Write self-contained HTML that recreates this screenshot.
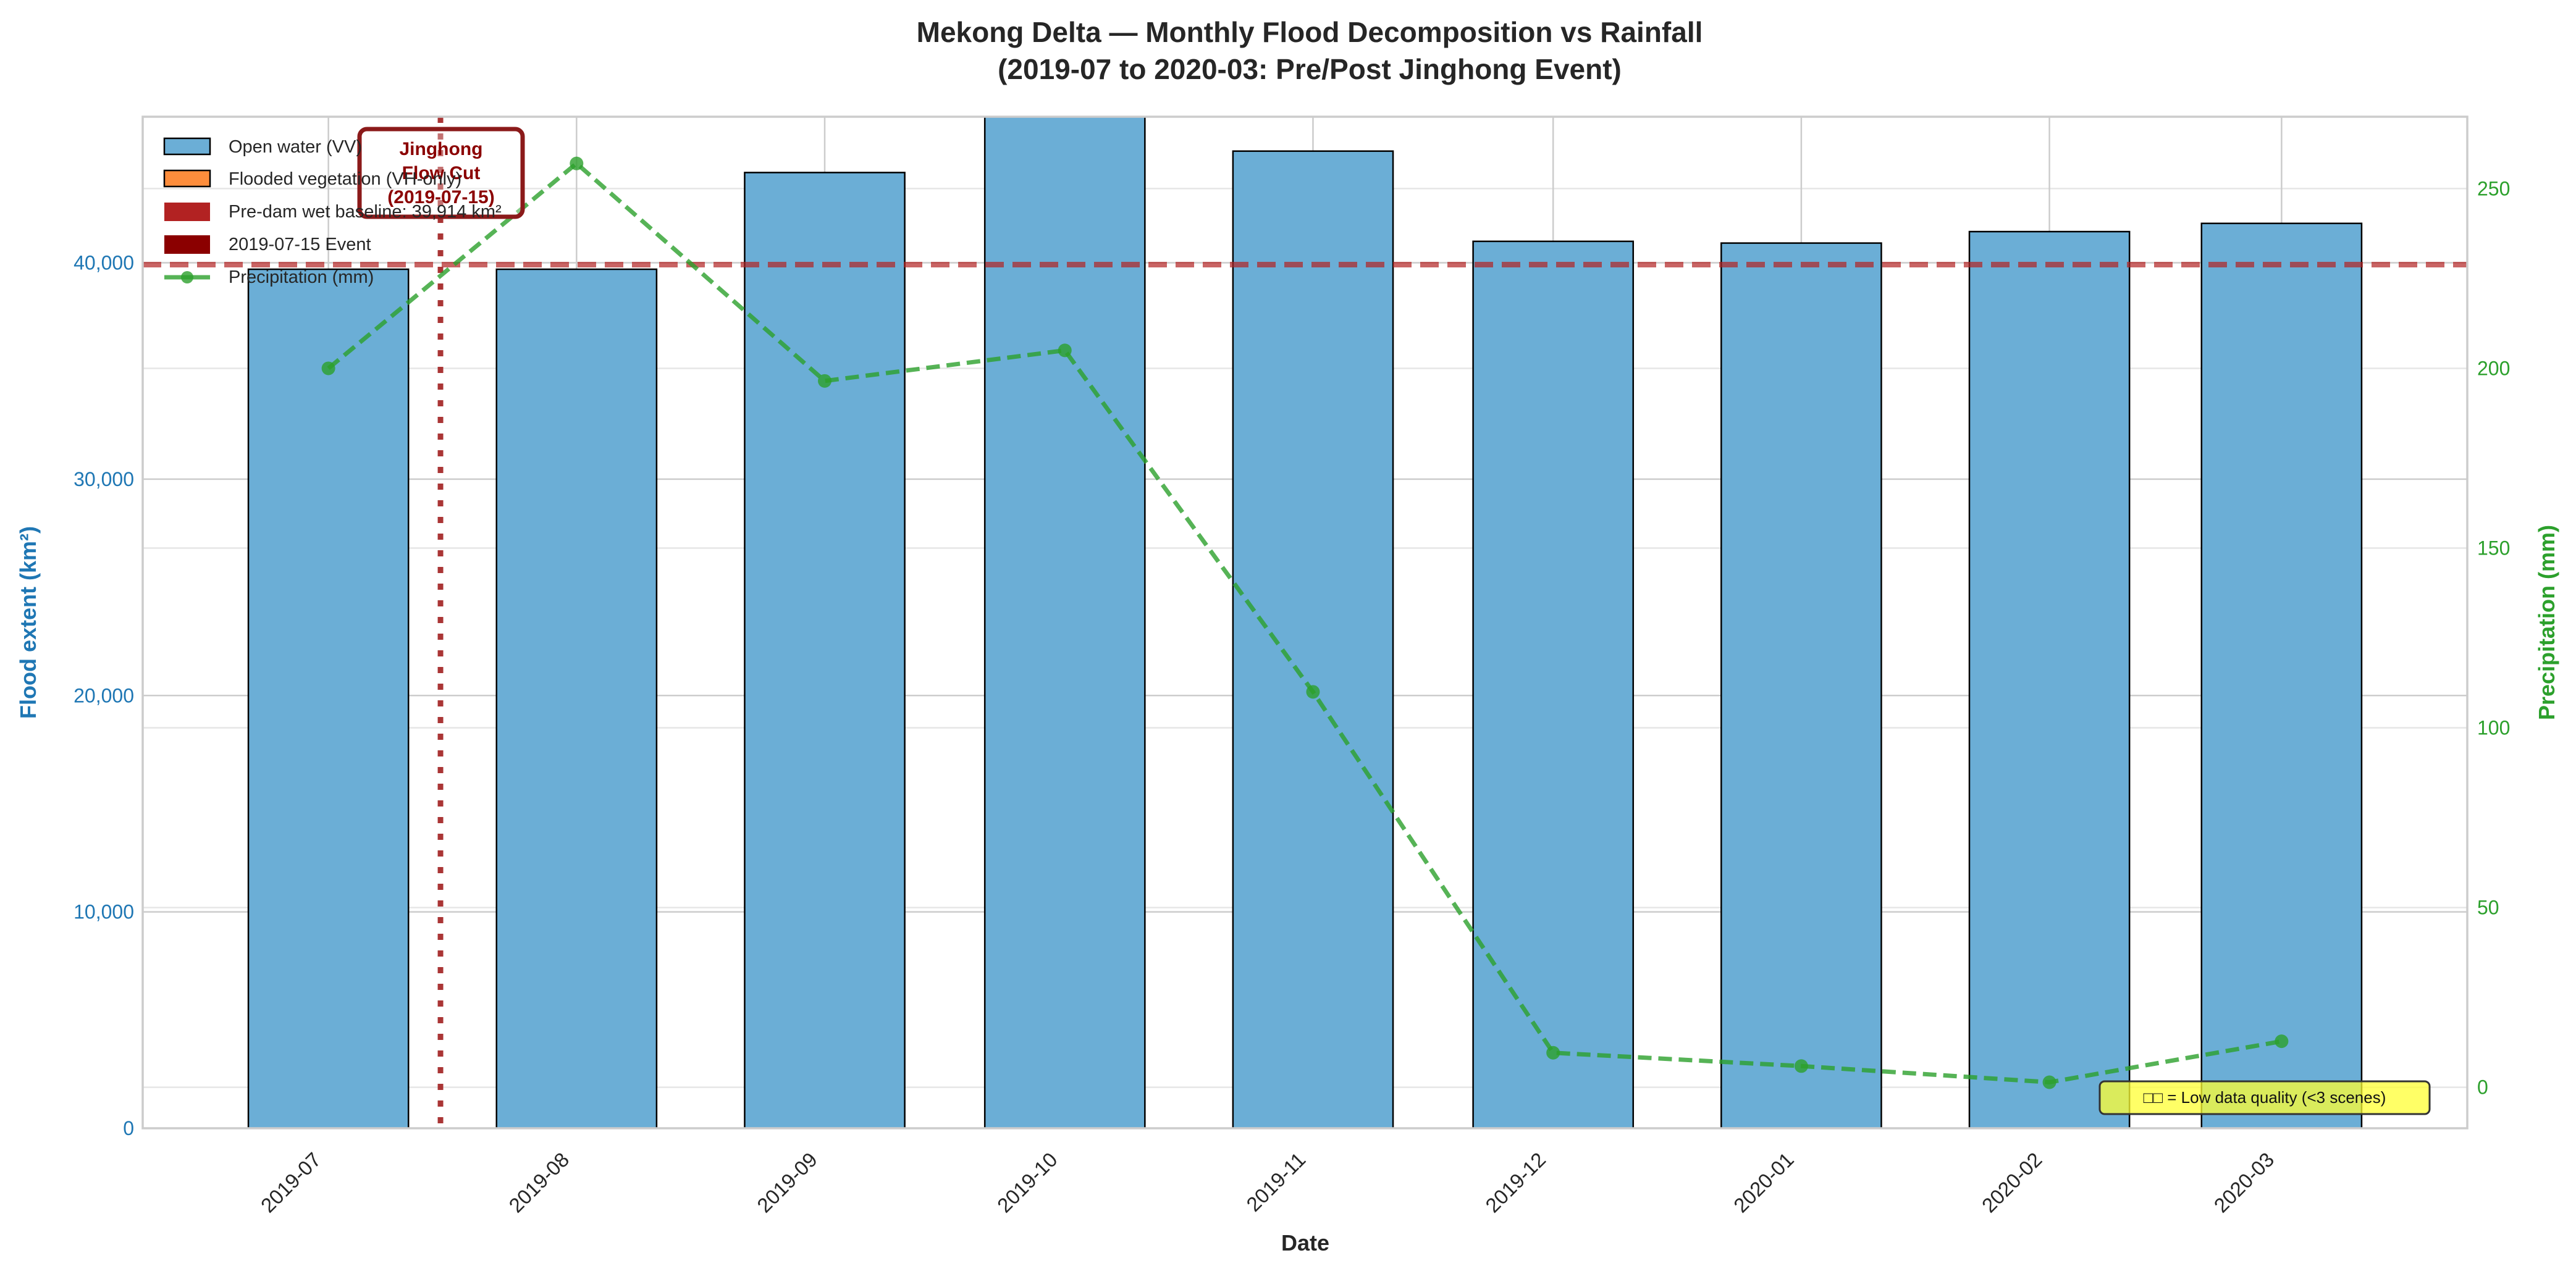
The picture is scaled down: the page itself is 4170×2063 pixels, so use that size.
<!DOCTYPE html>
<html><head><meta charset="utf-8">
<style>
html,body{margin:0;padding:0;background:#fff;}
svg{display:block;font-family:"Liberation Sans","DejaVu Sans",sans-serif;}
</style></head>
<body>
<svg id="chart" width="4170" height="2063" viewBox="0 0 4170 2063" xmlns="http://www.w3.org/2000/svg">
<rect width="4170" height="2063" fill="#fff"/>
<text x="2120" y="68" text-anchor="middle" font-size="46" font-weight="bold" fill="#262626">Mekong Delta — Monthly Flood Decomposition vs Rainfall</text>
<text x="2120" y="128" text-anchor="middle" font-size="46" font-weight="bold" fill="#262626">(2019-07 to 2020-03: Pre/Post Jinghong Event)</text>
<g id="grid"></g>
<g id="bars"></g>
<g id="refs"></g>
<g id="precip"></g>
<g id="axes"></g>
<text x="2113" y="2025" text-anchor="middle" font-size="36" font-weight="bold" fill="#262626">Date</text>
<text transform="translate(58,1008) rotate(-90)" text-anchor="middle" font-size="36" font-weight="bold" fill="#1f77b4">Flood extent (km²)</text>
<text transform="translate(4135,1008) rotate(-90)" text-anchor="middle" font-size="36" font-weight="bold" fill="#2ca02c">Precipitation (mm)</text>
<g id="annot">
<rect x="582" y="209" width="264" height="142" rx="12" fill="#fff" fill-opacity="0.3" stroke="#8b1a1a" stroke-width="7"/>
<text x="714" y="251" text-anchor="middle" font-size="30" font-weight="bold" fill="#8b0000">Jinghong</text>
<text x="714" y="290" text-anchor="middle" font-size="30" font-weight="bold" fill="#8b0000">Flow Cut</text>
<text x="714" y="329" text-anchor="middle" font-size="30" font-weight="bold" fill="#8b0000">(2019-07-15)</text>
</g>
<g id="legend">
<g>
<rect x="266" y="224" width="74" height="26" fill="#6baed6" stroke="#000" stroke-width="2.5"/>
<text x="370" y="247" font-size="29" fill="#262626">Open water (VV)</text></g>
<g>
<rect x="266" y="276" width="74" height="26" fill="#fd8d3c" stroke="#000" stroke-width="2.5"/>
<text x="370" y="299" font-size="29" fill="#262626">Flooded vegetation (VH-only)</text></g>
<g>
<rect x="266" y="328" width="74" height="30" fill="#b22222"/>
<text x="370" y="352" font-size="29" fill="#262626">Pre-dam wet baseline: 39,914 km²</text></g>
<g>
<rect x="266" y="381" width="74" height="30" fill="#8b0000"/>
<text x="370" y="405" font-size="29" fill="#262626">2019-07-15 Event</text></g>
<g>
<line x1="266" y1="449" x2="340" y2="449" stroke="#2ca02c" stroke-opacity="0.8" stroke-width="7"/>
<circle cx="303" cy="449" r="10" fill="#2ca02c" fill-opacity="0.8"/>
<text x="370" y="458" font-size="29" fill="#262626">Precipitation (mm)</text></g>
</g>
<g>
<rect x="3399" y="1751" width="534" height="53" rx="8" fill="#ffff33" fill-opacity="0.75" stroke="#333" stroke-width="3"/>
<text x="3666" y="1786" text-anchor="middle" font-size="26" fill="#111">□□ = Low data quality (&lt;3 scenes)</text>
</g>
</svg>
<script>
const months = ["2019-07","2019-08","2019-09","2019-10","2019-11","2019-12","2020-01","2020-02","2020-03"];
const openWater = [39700, 39700, 44170, 47500, 45160, 40990, 40910, 41440, 41820];
const floodedVeg = [0, 0, 0, 0, 0, 0, 0, 0, 0];
const precipitation = [200, 257, 196.5, 205, 110, 9.6, 5.9, 1.4, 12.8];
const baselineValue = 39914;
const eventDate = "2019-07-15";
const leftTicks = [0, 10000, 20000, 30000, 40000];
const rightTicks = [0, 50, 100, 150, 200, 250];

const NS = "http://www.w3.org/2000/svg";
const L = 231, R = 3994, T = 189, B = 1827;
const DAY = 86400000;
const d0 = Date.UTC(2019,6,1) - 23.2*DAY, d1 = Date.UTC(2020,2,1) + 23.2*DAY;
const yMin = 0, yMax = 46750, rMin = -11.4, rMax = 270;
function parseD(s){const p=s.split("-").map(Number);return Date.UTC(p[0],p[1]-1,p[2]||1);}
function xs(s){return L + (parseD(s)-d0)/(d1-d0)*(R-L);}
function yl(v){return B - (v-yMin)/(yMax-yMin)*(B-T);}
function yr(v){return B - (v-rMin)/(rMax-rMin)*(B-T);}
function mk(tag, attrs, parent){const e=document.createElementNS(NS,tag);for(const k in attrs)e.setAttribute(k,attrs[k]);parent.appendChild(e);return e;}
const grid=document.getElementById("grid"), bars=document.getElementById("bars"), refs=document.getElementById("refs"), pg=document.getElementById("precip"), axes=document.getElementById("axes");

const defs=mk("defs",{},document.getElementById("chart"));
const cp=mk("clipPath",{id:"plotclip"},defs);
mk("rect",{x:L,y:T,width:R-L,height:B-T},cp);
bars.setAttribute("clip-path","url(#plotclip)");

leftTicks.forEach(v=>{
  const g=mk("line",{x1:L,x2:R,y1:yl(v),y2:yl(v),stroke:"#cccccc","stroke-width":2.5},grid);
  
  
});
rightTicks.forEach(v=>{
  const g=mk("line",{x1:L,x2:R,y1:yr(v),y2:yr(v),stroke:"#e6e6e6","stroke-width":2.5},grid);
  
  
});
months.forEach(m=>{
  const g=mk("line",{x1:xs(m),x2:xs(m),y1:T,y2:B,stroke:"#cccccc","stroke-width":2.5},grid);
  
  
});

const bw = 20*DAY/(d1-d0)*(R-L);
months.forEach((m,i)=>{
  const cx=xs(m);
  const r=mk("rect",{x:cx-bw/2,y:yl(openWater[i]),width:bw,height:yl(0)-yl(openWater[i]),fill:"#6baed6",stroke:"#000","stroke-width":2.5},bars);
  
  
  if(floodedVeg[i]>0){
    const r2=mk("rect",{x:cx-bw/2,y:yl(openWater[i]+floodedVeg[i]),width:bw,height:yl(openWater[i])-yl(openWater[i]+floodedVeg[i]),fill:"#fd8d3c",stroke:"#000","stroke-width":2.5},bars);
    
    
  }
});

const bl=mk("line",{x1:L,x2:R,y1:yl(baselineValue),y2:yl(baselineValue),stroke:"#b22222","stroke-opacity":0.7,"stroke-width":9,"stroke-dasharray":"30 14"},refs);


const ev=mk("line",{x1:xs(eventDate),x2:xs(eventDate),y1:T,y2:B,stroke:"#a52a2a","stroke-opacity":0.95,"stroke-width":9,"stroke-dasharray":"10 17"},refs);



const pts=months.map((m,i)=>xs(m)+","+yr(precipitation[i])).join(" ");
const pl=mk("polyline",{points:pts,fill:"none",stroke:"#2ca02c","stroke-opacity":0.8,"stroke-width":7,"stroke-dasharray":"22 11"},pg);


months.forEach((m,i)=>{
  const c=mk("circle",{cx:xs(m),cy:yr(precipitation[i]),r:11,fill:"#2ca02c","fill-opacity":0.8},pg);
  
  
});

const fr=mk("rect",{x:L,y:T,width:R-L,height:B-T,fill:"none",stroke:"#cccccc","stroke-width":3.5},axes);



leftTicks.forEach(v=>{
  const t=mk("text",{x:L-14,y:yl(v)+11,"text-anchor":"end","font-size":32,fill:"#1f77b4"},axes);
  t.textContent=v.toLocaleString("en-US");
  
  
});
rightTicks.forEach(v=>{
  const t=mk("text",{x:R+16,y:yr(v)+11,"text-anchor":"start","font-size":32,fill:"#2ca02c"},axes);
  t.textContent=String(v);
  
  
});
months.forEach(m=>{
  const x=xs(m)-10, y=1880;
  const t=mk("text",{x:x,y:y,"text-anchor":"end","font-size":33,fill:"#262626",transform:"rotate(-45 "+x+" "+y+")"},axes);
  t.textContent=m;
  
  
});
</script>
</body></html>
